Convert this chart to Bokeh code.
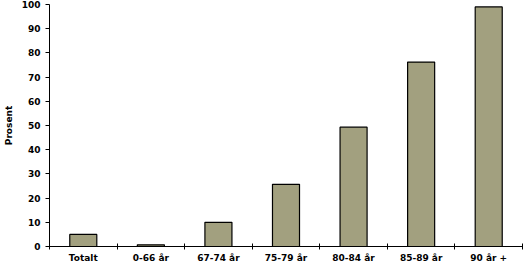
from bokeh.plotting import figure
from bokeh.models import FixedTicker, Range1d
from bokeh.embed import file_html
from bokeh.resources import INLINE

categories = ["Totalt", "0-66 år", "67-74 år", "75-79 år", "80-84 år", "85-89 år", "90 år +"]
prosent = [5, 0.7, 10, 25.7, 49.3, 76.2, 99]
y_ticks = [0, 10, 20, 30, 40, 50, 60, 70, 80, 90, 100]

n = len(categories)
centers = [i + 0.5 for i in range(n)]
bounds = list(range(n + 1))

p = figure(width=523, height=265, output_backend="svg", toolbar_location=None,
           x_range=Range1d(0, n), y_range=Range1d(0, 100),
           min_border_left=45, min_border_right=1, min_border_top=4, min_border_bottom=10)
p.outline_line_color = None
p.xgrid.grid_line_color = None
p.ygrid.grid_line_color = None
p.background_fill_color = "white"
p.border_fill_color = "white"

p.vbar(x=centers, top=prosent, width=0.4, bottom=0,
       fill_color="#a2a07f", line_color="black", line_width=1.2)

font = "DejaVu Sans"
# x axis
xa = p.xaxis[0]
xa.ticker = FixedTicker(ticks=centers, minor_ticks=bounds)
xa.major_label_overrides = {c: lab for c, lab in zip(centers, categories)}
xa.major_tick_line_color = None
xa.major_tick_in = 0
xa.major_tick_out = 0
xa.minor_tick_in = 3
xa.minor_tick_out = 3
xa.minor_tick_line_color = "black"
xa.major_label_standoff = 3
xa.major_label_text_font = font
xa.major_label_text_font_style = "bold"
xa.major_label_text_font_size = "9px"
xa.major_label_text_line_height = 0.8
xa.major_label_text_color = "black"
xa.axis_line_color = "black"

# y axis
ya = p.yaxis[0]
ya.ticker = FixedTicker(ticks=y_ticks, minor_ticks=[])
ya.major_tick_in = 0
ya.major_tick_out = 4
ya.major_label_standoff = 5
ya.major_label_text_font = font
ya.major_label_text_font_style = "bold"
ya.major_label_text_font_size = "9px"
ya.major_label_text_color = "black"
ya.axis_label = "Prosent"
ya.axis_label_text_font = font
ya.axis_label_text_font_style = "bold"
ya.axis_label_text_font_size = "9px"
ya.axis_label_standoff = 5
ya.axis_label_text_color = "black"
ya.axis_line_color = "black"

open("out.html", "w").write(file_html(p, INLINE))
